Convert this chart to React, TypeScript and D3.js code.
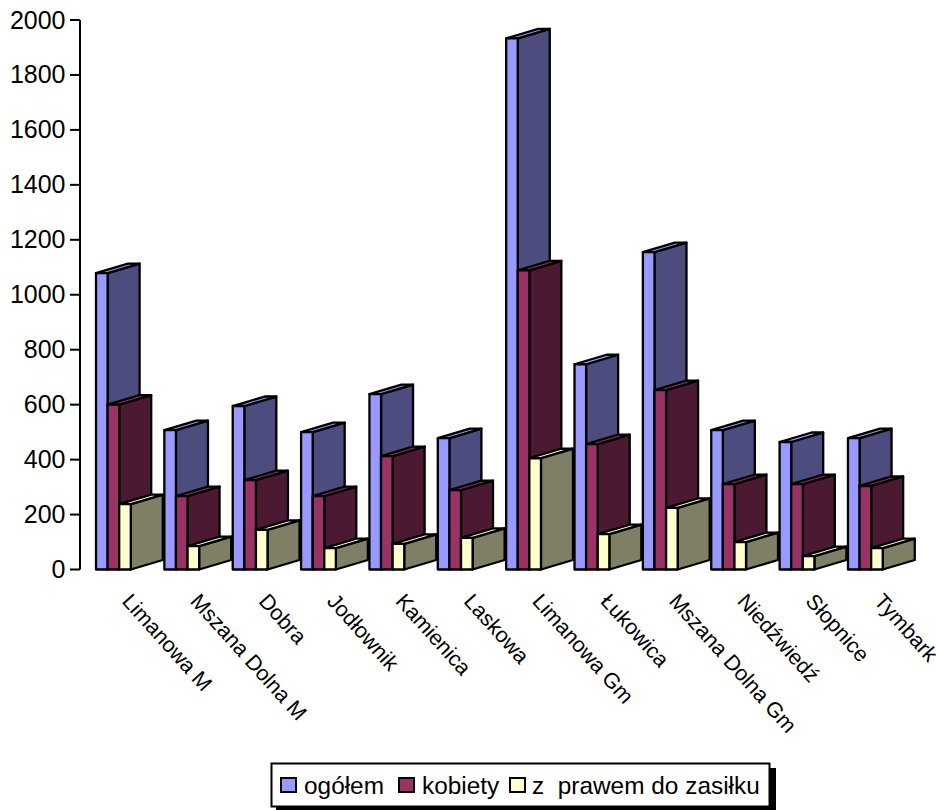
import React from "react";
import * as d3 from "d3";

const categories = ["Limanowa M","Mszana Dolna M","Dobra","Jodłownik","Kamienica","Laskowa","Limanowa Gm","Łukowica","Mszana Dolna Gm","Niedźwiedź","Słopnice","Tymbark"];
const ogolem = [1079,507,595,500,638,478,1933,747,1155,507,464,478];
const kobiety = [600,267,325,267,413,289,1089,456,653,311,311,304];
const zasilek = [238,85,144,78,93,115,405,129,224,100,49,78];
const ticks = [0,200,400,600,800,1000,1200,1400,1600,1800,2000];

const seriesNames = ["ogółem","kobiety","z  prawem do zasiłku"];
const seriesValues = [ogolem,kobiety,zasilek];
const front = ["#9999FF","#993366","#FFFFCC"];
const side = ["#4C4C7F","#4C1933","#7F7F66"];

const FONT = "'Liberation Sans', Arial, sans-serif";
const DX = 32, DY = 9.5;

export default function App() {
  const y = d3.scaleLinear().domain([0,2000]).range([569.5,20]);
  const x = d3.scaleBand<string>().domain(categories).range([96,96+68.36*12]).paddingInner(0).paddingOuter(0);
  const w = 11.6;
  return (
    <svg width={936} height={810} style={{position:"absolute",left:0,top:0,background:"#fff"}} fontFamily={FONT}>
      <line x1={80} x2={80} y1={y(2000)} y2={y(0)} stroke="#000" strokeWidth={2}/>
      {ticks.map(t=>(
        <g key={t}>
          <line x1={70} x2={80} y1={y(t)} y2={y(t)} stroke="#000" strokeWidth={2}/>
          <text x={65.5} y={y(t)+8.5} textAnchor="end" fontSize={25}>{t}</text>
        </g>
      ))}
      {categories.map((c,i)=>{
        const x0 = x(c)!;
        return (
          <g key={c}>
            {seriesValues.map((vals,s)=>{
              const l = x0+s*w, r = l+w, t = y(vals[i]), b = y(0);
              return (
                <g key={s} stroke="#000" strokeWidth={2.3} strokeLinejoin="round">
                  <path d={`M${r},${t}L${r+DX},${t-DY}L${r+DX},${b-DY}L${r},${b}Z`} fill={side[s]}/>
                  <path d={`M${l},${t}L${l+DX},${t-DY}L${r+DX},${t-DY}L${r},${t}Z`} fill={front[s]}/>
                  <rect x={l} y={t} width={w} height={b-t} fill={front[s]}/>
                </g>
              );
            })}
          </g>
        );
      })}
      {categories.map((c,i)=>{
        const px = x(c)!+25;
        return <text key={c} x={px} y={602} fontSize={21.5} transform={`rotate(48 ${px} 602)`}>{c}</text>;
      })}
      <rect x={276} y={768} width={500} height={42} fill="#000"/>
      <rect x={271.5} y={763.5} width={498} height={43} fill="#fff" stroke="#000" strokeWidth={2}/>
      {[0,1,2].map(s=>{
        const sx = [281,399,510][s], tx = [304,422,532][s];
        return (
          <g key={s}>
            <rect x={sx} y={778} width={15} height={14} fill={front[s]} stroke="#000" strokeWidth={2}/>
            <text x={tx} y={794} fontSize={24.4} style={{whiteSpace:"pre"}}>{seriesNames[s]}</text>
          </g>
        );
      })}
    </svg>
  );
}
